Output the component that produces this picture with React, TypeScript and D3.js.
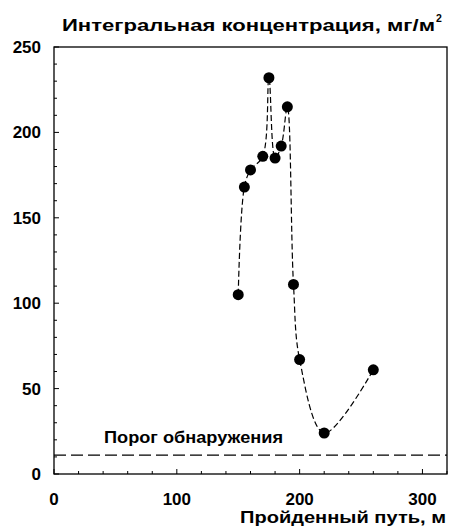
import React from "react";
import * as d3 from "d3";

const distances = [150, 155, 160, 170, 175, 180, 185, 190, 195, 200, 220, 260];
const concentrations = [105, 168, 178, 186, 232, 185, 192, 215, 111, 67, 24, 61];
const threshold = 11;
const xTicks = [0, 100, 200, 300];
const yTicks = [0, 50, 100, 150, 200, 250];
const titleText = "Интегральная концентрация, мг/м";
const xLabelText = "Пройденный путь, м";
const thresholdLabel = "Порог обнаружения";

const W = 449;
const H = 531;
const M = { left: 54, right: 447, top: 47, bottom: 474 };
const FONT = "'Liberation Sans', Arial, sans-serif";

export default function App() {
  const x = d3.scaleLinear().domain([0, 320]).range([M.left, M.right]);
  const y = d3.scaleLinear().domain([0, 250]).range([M.bottom, M.top]);
  const pts: [number, number][] = distances.map((d, i) => [d, concentrations[i]]);
  const line = d3
    .line<[number, number]>()
    .x((d) => x(d[0]))
    .y((d) => y(d[1]))
    .curve(d3.curveCatmullRom.alpha(0.5));
  const xMinor = d3.range(0, 321, 20);
  const yMinor = d3.range(0, 251, 10);

  return (
    <svg
      width={W}
      height={H}
      style={{ position: "absolute", left: 0, top: 0, background: "#fff" }}
      fontFamily={FONT}
    >
      <rect x={0} y={0} width={W} height={H} fill="#fff" />
      {/* threshold */}
      <line
        x1={x(0)}
        x2={x(320)}
        y1={y(threshold)}
        y2={y(threshold)}
        stroke="#000"
        strokeWidth={1.2}
        strokeDasharray="12,5"
      />
      <text
        x={104}
        y={443}
        fontSize={16.5}
        fontWeight="bold"
        fill="#000"
        textLength={179}
        lengthAdjust="spacingAndGlyphs"
      >
        {thresholdLabel}
      </text>
      {/* data line */}
      <path d={line(pts) || ""} fill="none" stroke="#000" strokeWidth={1.2} strokeDasharray="6,3" />
      {pts.map((p, i) => (
        <circle key={i} cx={x(p[0])} cy={y(p[1])} r={5.5} fill="#000" />
      ))}
      {/* frame */}
      <rect
        x={M.left}
        y={M.top}
        width={M.right - M.left}
        height={M.bottom - M.top}
        fill="none"
        stroke="#000"
        strokeWidth={1.3}
      />
      {/* ticks */}
      {yMinor.map((v) => (
        <line
          key={"ym" + v}
          x1={M.left}
          x2={M.left + (v % 50 === 0 ? 5 : 3)}
          y1={y(v)}
          y2={y(v)}
          stroke="#000"
          strokeWidth={1}
        />
      ))}
      {xMinor.map((v) => (
        <line
          key={"xm" + v}
          x1={x(v)}
          x2={x(v)}
          y1={M.bottom}
          y2={M.bottom - (v % 100 === 0 ? 5 : 3)}
          stroke="#000"
          strokeWidth={1}
        />
      ))}
      {yTicks.map((v) => (
        <text
          key={"yt" + v}
          x={41}
          y={y(v) + 6}
          textAnchor="end"
          fontSize={17}
          fontWeight="bold"
          fill="#000"
        >
          {v}
        </text>
      ))}
      {xTicks.map((v) => (
        <text
          key={"xt" + v}
          x={x(v)}
          y={505}
          textAnchor="middle"
          fontSize={17}
          fontWeight="bold"
          fill="#000"
        >
          {v}
        </text>
      ))}
      <text
        x={62}
        y={31}
        fontSize={16.5}
        fontWeight="bold"
        fill="#000"
        textLength={373}
        lengthAdjust="spacingAndGlyphs"
      >
        {titleText}
      </text>
      <text x={436} y={22} fontSize={10.5} fontWeight="bold" fill="#000">
        2
      </text>
      <text
        x={240}
        y={523}
        fontSize={17}
        fontWeight="bold"
        fill="#000"
        textLength={206}
        lengthAdjust="spacingAndGlyphs"
      >
        {xLabelText}
      </text>
    </svg>
  );
}
